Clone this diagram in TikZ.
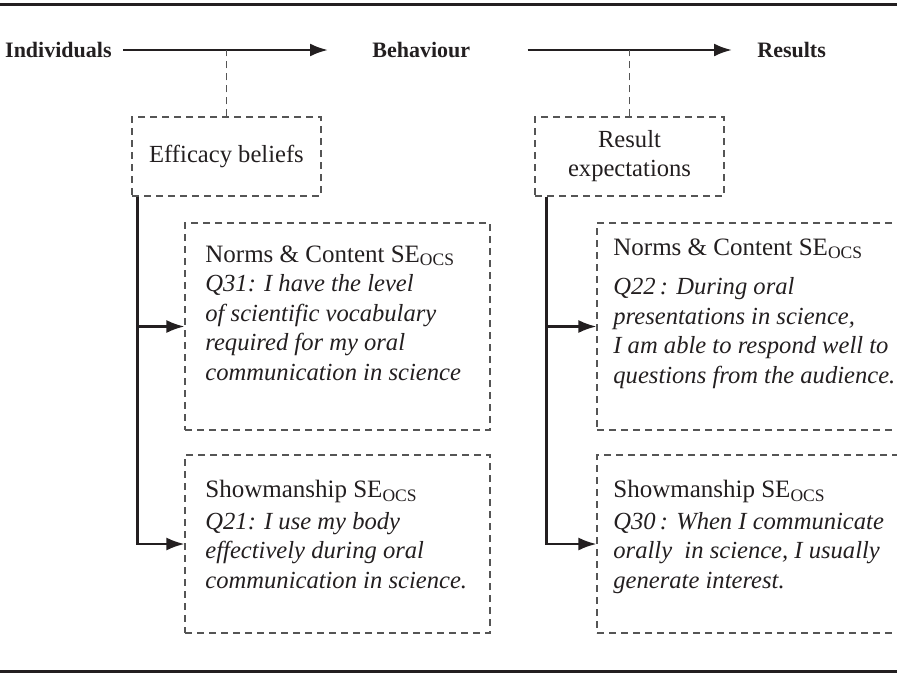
\documentclass[tikz,border=0pt]{standalone}
\usepackage{fontspec}
\setmainfont{Liberation Serif}
\usepackage{tikz}
\usetikzlibrary{arrows.meta}
\definecolor{inkdark}{RGB}{35,31,32}
\definecolor{dashgray}{RGB}{85,85,85}
\newcommand{\qline}[1]{{\fontsize{12.3}{14.8}\selectfont\itshape #1}}

\begin{document}
\begin{tikzpicture}[x=0.5pt, y=-0.5pt, >={Latex[length=9pt,width=6.5pt]},
	stage/.style={font=\fontsize{11}{14}\selectfont\bfseries, inner sep=0pt, text=inkdark},
	flow/.style={->, line width=1.3pt, draw=inkdark},
	feed/.style={->, line width=1.1pt, draw=inkdark},
	dashlink/.style={draw=dashgray, line width=0.6pt, dash pattern=on 3.5pt off 2.5pt},
	dashbox/.style={dashlink, inner sep=0pt, text=inkdark, font=\fontsize{12.3}{14.5}\selectfont},
	qtext/.style={inner sep=0pt, align=left, text=inkdark, font=\fontsize{12.5}{14.8}\selectfont}]
	%\draw [help lines] (0,0) grid (897,675);
	\useasboundingbox (0,0) rectangle (897,675);
	\draw [line width=1.5pt, inkdark] (0,4) -- (897,4);
	\draw [line width=1.5pt, inkdark] (0,671) -- (897,671);

	\node [stage, anchor=east] (indiv) at (112,50) {Individuals};
	\node [stage, anchor=west] (behav) at (372,50) {Behaviour};
	\node [stage, anchor=west] (results) at (757,50) {Results};
	\draw [flow] ([xshift=5.5pt]indiv.east) -- coordinate[pos=0.5] (m1) ([xshift=-22pt]behav.west);
	\draw [flow] ([xshift=28.5pt]behav.east) -- coordinate[pos=0.5] (m2) ([xshift=-12.5pt]results.west);

	\node [dashbox, minimum width=94.5pt, minimum height=39.5pt] (eff) at (226.5,156.5) {Efficacy beliefs};
	\node [dashbox, minimum width=94.5pt, minimum height=39.5pt, align=center] (resexp) at (629.5,156.5) {Result\\expectations};
	\draw [dashlink] (eff.north) -- (eff.north |- m1);
	\draw [dashlink] (resexp.north) -- (resexp.north |- m2);

	\node [dashbox, minimum width=152.5pt, minimum height=103.5pt] (normsL) at (337.5,326.5) {};
	\node [dashbox, minimum width=152.5pt, minimum height=89pt] (showL) at (337.5,544) {};
	\node [dashbox, minimum width=154pt, minimum height=103.5pt] (normsR) at (751,326.5) {};
	\node [dashbox, minimum width=154pt, minimum height=89pt] (showR) at (751,544) {};

	\node [qtext, anchor=north west] (normsLq) at (205,245) {Norms \& Content SE\textsubscript{OCS}\\
		\qline{Q31: I have the level}\\
		\qline{of scientific vocabulary}\\
		\qline{required for my oral}\\
		\qline{communication in science}};
	\node [qtext, anchor=north west] (showLq) at (205,480) {Showmanship SE\textsubscript{OCS}\\[1pt]
		\qline{Q21: I use my body}\\
		\qline{effectively during oral}\\
		\qline{communication in science.}};
	\node [qtext, anchor=north west] (normsRq) at (613,238) {Norms \& Content SE\textsubscript{OCS}\\[5pt]
		\qline{Q22\,: During oral}\\
		\qline{presentations in science,}\\
		\qline{I am able to respond well to}\\
		\qline{questions from the audience.}};
	\node [qtext, anchor=north west] (showRq) at (613,480) {Showmanship SE\textsubscript{OCS}\\[1pt]
		\qline{Q30\,: When I communicate}\\
		\qline{orally\ \ in science, I usually}\\
		\qline{generate interest.}};

	\draw [feed] ([xshift=3pt]eff.south west) |- (normsL.west);
	\draw [feed] ([xshift=3pt]eff.south west) |- (showL.west);
	\draw [feed] ([xshift=6pt]resexp.south west) |- (normsR.west);
	\draw [feed] ([xshift=6pt]resexp.south west) |- (showR.west);
\end{tikzpicture}
\end{document}
